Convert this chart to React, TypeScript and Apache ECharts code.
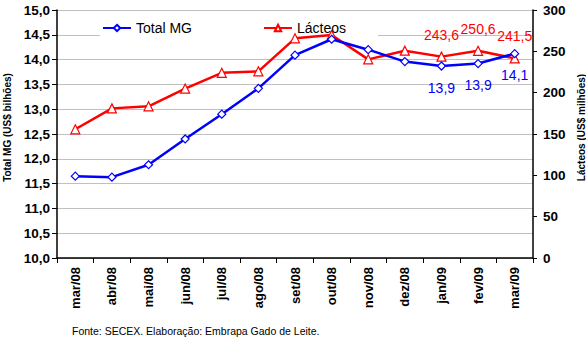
import React, { useEffect, useRef } from "react";
import * as echarts from "echarts";

const categories = ["mar/08", "abr/08", "mai/08", "jun/08", "jul/08", "ago/08", "set/08", "out/08", "nov/08", "dez/08", "jan/09", "fev/09", "mar/09"];
const totalMG = [11.65, 11.63, 11.88, 12.4, 12.9, 13.42, 14.09, 14.41, 14.2, 13.96, 13.87, 13.92, 14.12];
const lacteos = [155.7, 181, 183.5, 205, 224, 225.8, 265.7, 269.7, 240.3, 250.8, 243.6, 250.6, 241.5];
const labeledFrom = 10;
const sourceText = "Fonte: SECEX. Elaboração: Embrapa Gado de Leite.";

const FONT = "Arial, 'Liberation Sans', sans-serif";
const fmt = (v: number) => v.toFixed(1).replace(".", ",");

export default function App() {
  const ref = useRef<HTMLDivElement>(null);
  useEffect(() => {
    if (!ref.current) return;
    const chart = echarts.init(ref.current, undefined, { renderer: "svg" });
    const mgData = totalMG.map((v, i) => ({
      value: v,
      label: { show: i >= labeledFrom },
    }));
    const lacData = lacteos.map((v, i) => ({
      value: v,
      label: { show: i >= labeledFrom },
    }));
    chart.setOption({
      animation: false,
      textStyle: { fontFamily: FONT },
      grid: { left: 57, right: 53, top: 10, bottom: 85, containLabel: false, outerBoundsMode: "none" },
      legend: {
        left: 102,
        top: 21,
        padding: 0,
        itemWidth: 28,
        itemHeight: 8,
        itemGap: 71,
        textStyle: { fontSize: 14, color: "#000", fontFamily: FONT },
        data: ["Total MG", "Lácteos"],
      },
      graphic: [
        {
          type: "rect",
          z: 1,
          shape: { x: 100, y: 12, width: 278, height: 24 },
          style: { fill: "#fff" },
        },
        {
          type: "text",
          left: 72,
          top: 325,
          style: { text: sourceText, fontSize: 10.5, fill: "#000", fontFamily: FONT },
        },
      ],
      xAxis: {
        type: "category",
        data: categories,
        boundaryGap: true,
        axisLine: { show: true, lineStyle: { color: "#000", width: 1.5 } },
        axisTick: { show: true, length: 5, lineStyle: { color: "#000" } },
        axisLabel: {
          rotate: 90,
          margin: 9,
          fontSize: 13,
          fontWeight: "bold",
          color: "#000",
          fontFamily: FONT,
        },
        splitLine: { show: false },
      },
      yAxis: [
        {
          type: "value",
          min: 10,
          max: 15,
          interval: 0.5,
          position: "left",
          name: "Total MG (US$ bilhões)",
          nameLocation: "middle",
          nameGap: 41,
          nameRotate: 90,
          nameTextStyle: { fontSize: 10, fontWeight: "bold", color: "#000", fontFamily: FONT, padding: [0, 0, 0, 13] },
          axisLine: { show: true, lineStyle: { color: "#000", width: 1.5 } },
          axisTick: { show: true, length: 5, lineStyle: { color: "#000" } },
          axisLabel: {
            margin: 7,
            fontSize: 13.5,
            fontWeight: "bold",
            color: "#000",
            fontFamily: FONT,
            formatter: (v: number) => fmt(v),
          },
          splitLine: { show: true, lineStyle: { color: "#c0c0c0", width: 1 } },
        },
        {
          type: "value",
          min: 0,
          max: 300,
          interval: 50,
          position: "right",
          name: "Lácteos (US$ milhões)",
          nameLocation: "middle",
          nameGap: 43,
          nameRotate: 90,
          nameTextStyle: { fontSize: 10, fontWeight: "bold", color: "#000", fontFamily: FONT, padding: [0, 0, 0, 13] },
          axisLine: { show: true, lineStyle: { color: "#000", width: 1.5 } },
          axisTick: { show: true, length: 4, lineStyle: { color: "#000" } },
          axisLabel: {
            margin: 10,
            fontSize: 13.5,
            fontWeight: "bold",
            color: "#000",
            fontFamily: FONT,
          },
          splitLine: { show: false },
        },
      ],
      series: [
        {
          name: "Total MG",
          type: "line",
          yAxisIndex: 0,
          data: mgData,
          z: 3,
          symbol: "diamond",
          symbolSize: 8,
          lineStyle: { color: "#0000ff", width: 2.5 },
          itemStyle: { color: "#fff", borderColor: "#0000ff", borderWidth: 1.2 },
          label: {
            position: "bottom",
            distance: 10,
            fontSize: 14,
            color: "#0000ff",
            fontFamily: FONT,
            formatter: (p: any) => fmt(p.value),
          },
        },
        {
          name: "Lácteos",
          type: "line",
          yAxisIndex: 1,
          data: lacData,
          z: 2,
          symbol: "triangle",
          symbolSize: 9,
          lineStyle: { color: "#ff0000", width: 2.5 },
          itemStyle: { color: "#fff", borderColor: "#ff0000", borderWidth: 1.2 },
          label: {
            position: "top",
            distance: 10,
            fontSize: 14,
            color: "#ff0000",
            fontFamily: FONT,
            formatter: (p: any) => fmt(p.value),
          },
        },
      ],
    });
    return () => chart.dispose();
  }, []);
  return <div ref={ref} style={{ width: 586, height: 343, position: "absolute", left: 0, top: 0 }} />;
}
